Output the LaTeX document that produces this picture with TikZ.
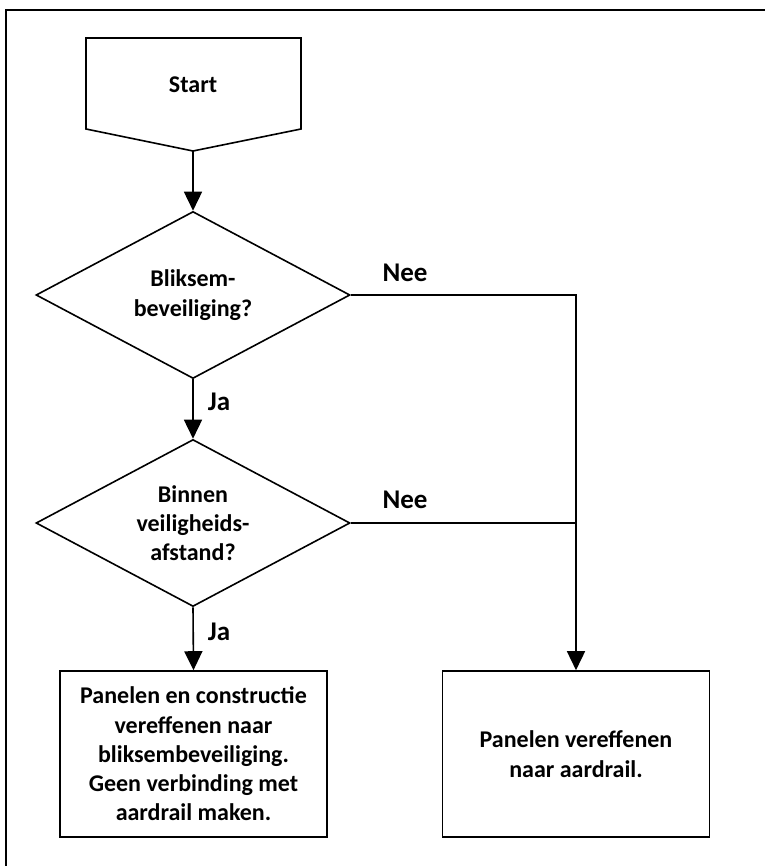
\documentclass[tikz,border=0pt]{standalone}
\usepackage{fontspec}
\setmainfont{Carlito}
\usetikzlibrary{shapes.geometric,arrows.meta}
\begin{document}
\begin{tikzpicture}[x=1pt,y=-1pt,
  ln/.style={line width=1.6pt},
  txt/.style={font=\bfseries\fontsize{24}{29.3}\selectfont, align=center},
  dec/.style={diamond, draw, ln, txt, inner sep=0pt, minimum width=314pt, minimum height=167pt, aspect=1.88},
  boxn/.style={rectangle, draw, ln, txt, inner sep=0pt, minimum width=267pt, minimum height=166pt},
  lbl/.style={font=\bfseries\fontsize{27}{32}\selectfont},
  arr/.style={ln, -{Triangle[length=19pt,width=18pt]}},
  ]
\useasboundingbox (0,0) rectangle (765,866);
% outer frame (top and left edges visible)
\draw[ln] (6,866) -- (6,10) -- (765,10);
% start shape
\draw[ln, line join=miter] (86,38) -- (301,38) -- (301,129) -- (193,151) -- (86,129) -- cycle;
\node[txt] (start) at (193,85) {Start};
\coordinate (sp) at (193,151);
% decisions
\node[dec] (d1) at (193,295) {Bliksem-\\beveiliging?};
\node[dec] (d2) at (193,523) {Binnen\\veiligheids-\\afstand?};
% result boxes
\node[boxn] (b1) at (193.5,754) {Panelen en constructie\\vereffenen naar\\bliksembeveiliging.\\Geen verbinding met\\aardrail maken.};
\node[boxn] (b2) at (576,754) {Panelen vereffenen\\naar aardrail.};
% junctions
\coordinate (j1) at (576,295);
\coordinate (j2) at (576,523);
% connectors
\draw[arr] (sp) -- (d1.north);
\draw[arr] (d1.south) -- (d2.north);
\draw[arr] (d2.south) -- (b1.north);
\draw[arr] (d1.east) -- (j1) -- (b2.north);
\draw[ln] (d2.east) -- (j2);
% labels
\node[lbl] (n1) at (405,273) {Nee};
\node[lbl] (n2) at (405,500) {Nee};
\node[lbl] (ja1) at (219,402) {Ja};
\node[lbl] (ja2) at (219,632) {Ja};
\end{tikzpicture}
\end{document}
